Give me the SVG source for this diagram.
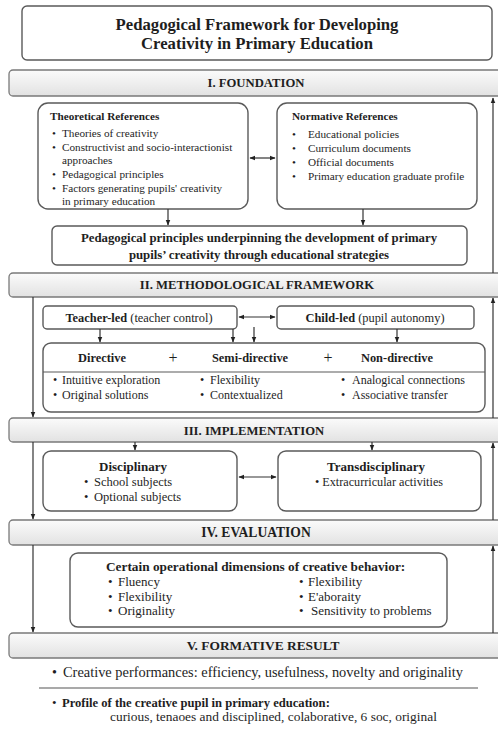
<svg xmlns="http://www.w3.org/2000/svg" width="498" height="731" viewBox="0 0 498 731">
<defs>
<linearGradient id="bar" x1="0" y1="0" x2="0" y2="1">
<stop offset="0" stop-color="#fbfbfb"/>
<stop offset="1" stop-color="#e2e2e2"/>
</linearGradient>
<marker id="ah" viewBox="0 0 10 10" refX="9" refY="5" markerWidth="6" markerHeight="6" orient="auto-start-reverse" markerUnits="userSpaceOnUse">
<path d="M0,1 L10,5 L0,9 z" fill="#222"/>
</marker>
</defs>
<style>
text{font-family:"Liberation Serif","Times New Roman",serif;fill:#1e1e1e}
.b{font-weight:bold}
.bar{fill:url(#bar);stroke:#7a7a7a;stroke-width:1.3}
.box{fill:#fff;stroke:#5a5a5a;stroke-width:1.4}
.bt{font-size:12.7px;font-weight:bold;text-anchor:middle}
.s{font-size:11.2px}
.m{font-size:12.5px}
.st{font-size:12px}
.c{text-anchor:middle}
.ln{stroke:#333;stroke-width:1.2;fill:none}
</style>
<rect width="498" height="731" fill="#fff"/>

<g id="title">
<rect x="22" y="6" width="470" height="54" rx="5" class="box" stroke="#888"/>
<text x="257" y="30" class="b c" font-size="16.7">Pedagogical Framework for Developing</text>
<text x="257" y="49" class="b c" font-size="16.7">Creativity in Primary Education</text>
</g>

<g id="foundation-bar">
<rect x="9" y="70" width="500" height="26" rx="4" class="bar"/>
<text x="256" y="87" class="bt">I. FOUNDATION</text>
</g>

<g id="theoretical">
<rect x="38" y="103" width="210" height="106" rx="10" class="box"/>
<text x="50" y="120" class="b s">Theoretical References</text>
<g class="s">
<text x="52" y="137">•</text><text x="62" y="137">Theories of creativity</text>
<text x="52" y="151">•</text><text x="62" y="151">Constructivist and socio-interactionist</text>
<text x="62" y="164">approaches</text>
<text x="52" y="178">•</text><text x="62" y="178">Pedagogical principles</text>
<text x="52" y="192">•</text><text x="62" y="192">Factors generating pupils' creativity</text>
<text x="62" y="205">in primary education</text>
</g>
</g>

<g id="normative">
<rect x="277" y="103" width="200" height="106" rx="10" class="box"/>
<text x="292" y="120" class="b s">Normative References</text>
<g class="s">
<text x="292" y="138">•</text><text x="308" y="138">Educational policies</text>
<text x="292" y="152">•</text><text x="308" y="152">Curriculum documents</text>
<text x="292" y="166">•</text><text x="308" y="166">Official documents</text>
<text x="292" y="180">•</text><text x="308" y="180">Primary education graduate profile</text>
</g>
</g>

<g id="principles">
<rect x="52" y="226" width="415" height="39" rx="5" class="box"/>
<text x="259" y="242" class="b c" font-size="12.8">Pedagogical principles underpinning the development of primary</text>
<text x="259" y="259" class="b c" font-size="12.8">pupils’ creativity through educational strategies</text>
</g>

<g id="methodological-bar">
<rect x="9" y="273" width="500" height="24" rx="4" class="bar"/>
<text x="257" y="289" class="bt">II. METHODOLOGICAL FRAMEWORK</text>
</g>

<g id="teacher-led">
<rect x="43" y="306" width="194" height="23" rx="4" class="box"/>
<text x="139" y="322" class="c" font-size="12.4"><tspan class="b">Teacher-led</tspan> (teacher control)</text>
</g>

<g id="child-led">
<rect x="277" y="306" width="197" height="23" rx="4" class="box"/>
<text x="375" y="322" class="c" font-size="12.4"><tspan class="b">Child-led</tspan> (pupil autonomy)</text>
</g>

<g id="strategies">
<rect x="43" y="343" width="442" height="69" rx="8" class="box"/>
<line x1="43" y1="372" x2="485" y2="372" stroke="#5a5a5a" stroke-width="1.2"/>
<text x="102" y="362" class="b c" font-size="12.4">Directive</text>
<text x="173" y="363" class="c" font-size="16">+</text>
<text x="250" y="362" class="b c" font-size="12.4">Semi-directive</text>
<text x="328" y="363" class="c" font-size="16">+</text>
<text x="397" y="362" class="b c" font-size="12.4">Non-directive</text>
<g class="st">
<text x="53" y="384">•</text><text x="62" y="384">Intuitive exploration</text>
<text x="53" y="399">•</text><text x="62" y="399">Original solutions</text>
<text x="200" y="384">•</text><text x="210" y="384">Flexibility</text>
<text x="200" y="399">•</text><text x="210" y="399">Contextualized</text>
<text x="341" y="384">•</text><text x="352" y="384">Analogical connections</text>
<text x="341" y="399">•</text><text x="352" y="399">Associative transfer</text>
</g>
</g>

<g id="implementation-bar">
<rect x="9" y="418" width="500" height="24" rx="4" class="bar"/>
<text x="254" y="435" class="bt" font-size="12.3">III. IMPLEMENTATION</text>
</g>

<g id="disciplinary">
<rect x="43" y="451" width="194" height="60" rx="8" class="box"/>
<text x="133" y="471" class="b c" font-size="13">Disciplinary</text>
<text x="84" y="486" class="m">•</text><text x="94" y="486" class="m">School subjects</text>
<text x="84" y="501" class="m">•</text><text x="94" y="501" class="m">Optional subjects</text>
</g>

<g id="transdisciplinary">
<rect x="278" y="451" width="203" height="60" rx="8" class="box"/>
<text x="376" y="471" class="b c" font-size="13">Transdisciplinary</text>
<text x="379" y="486" class="c" font-size="12.2">• Extracurricular activities</text>
</g>

<g id="evaluation-bar">
<rect x="9" y="520" width="500" height="25" rx="4" class="bar"/>
<text x="256" y="537" class="bt" style="font-size:13.6px">IV. EVALUATION</text>
</g>

<g id="dimensions">
<rect x="70" y="553" width="377" height="74" rx="8" class="box"/>
<text x="106" y="571" class="b" font-size="13.3">Certain operational dimensions of creative behavior:</text>
<g style="font-size:13px">
<text x="108" y="586">•</text><text x="118" y="586">Fluency</text>
<text x="108" y="601">•</text><text x="118" y="601">Flexibility</text>
<text x="108" y="615">•</text><text x="118" y="615">Originality</text>
<text x="299" y="586">•</text><text x="308" y="586">Flexibility</text>
<text x="299" y="601">•</text><text x="308" y="601">E'aboraity</text>
<text x="299" y="615">•</text><text x="311" y="615">Sensitivity to problems</text>
</g>
</g>

<g id="formative-bar">
<rect x="9" y="633" width="500" height="25" rx="4" class="bar"/>
<text x="263" y="650" class="bt" style="font-size:13.4px">V. FORMATIVE RESULT</text>
</g>

<g id="result">
<text x="52" y="677" font-size="14">•</text><text x="63" y="677" font-size="14.4">Creative performances: efficiency, usefulness, novelty and originality</text>
<line x1="39" y1="688" x2="478" y2="688" stroke="#555" stroke-width="1.2"/>
<text x="52" y="707" font-size="13">•</text><text x="62" y="707" class="b" font-size="12.6">Profile of the creative pupil in primary education:</text>
<text x="110" y="721" font-size="13.4">curious, tenaoes and disciplined, colaborative, 6 soc, original</text>
</g>

<g id="connectors">
<line x1="250" y1="158" x2="275" y2="158" class="ln" marker-start="url(#ah)" marker-end="url(#ah)"/>
<line x1="168" y1="209" x2="168" y2="225" class="ln" marker-end="url(#ah)"/>
<line x1="363" y1="209" x2="363" y2="225" class="ln" marker-end="url(#ah)"/>
<line x1="239" y1="317" x2="275" y2="317" class="ln" marker-start="url(#ah)" marker-end="url(#ah)"/>
<line x1="100" y1="329" x2="100" y2="342" class="ln" marker-end="url(#ah)"/>
<line x1="233" y1="329" x2="233" y2="342" class="ln" marker-end="url(#ah)"/>
<line x1="254" y1="327" x2="254" y2="342" class="ln" marker-end="url(#ah)"/>
<line x1="397" y1="329" x2="397" y2="342" class="ln" marker-end="url(#ah)"/>
<line x1="135" y1="442" x2="135" y2="450" class="ln" marker-end="url(#ah)"/>
<line x1="372" y1="442" x2="372" y2="450" class="ln" marker-end="url(#ah)"/>
<line x1="239" y1="477" x2="276" y2="477" class="ln" marker-start="url(#ah)" marker-end="url(#ah)"/>
<line x1="33" y1="297" x2="33" y2="417" class="ln" marker-end="url(#ah)"/>
<line x1="33" y1="442" x2="33" y2="519" class="ln" marker-end="url(#ah)"/>
<line x1="33" y1="545" x2="33" y2="632" class="ln" marker-end="url(#ah)"/>
<line x1="493" y1="273" x2="493" y2="98" class="ln" marker-end="url(#ah)"/>
<line x1="493" y1="418" x2="493" y2="298" class="ln" marker-end="url(#ah)"/>
<line x1="493" y1="520" x2="493" y2="443" class="ln" marker-end="url(#ah)"/>
<line x1="493" y1="633" x2="493" y2="546" class="ln" marker-end="url(#ah)"/>
</g>
</svg>
